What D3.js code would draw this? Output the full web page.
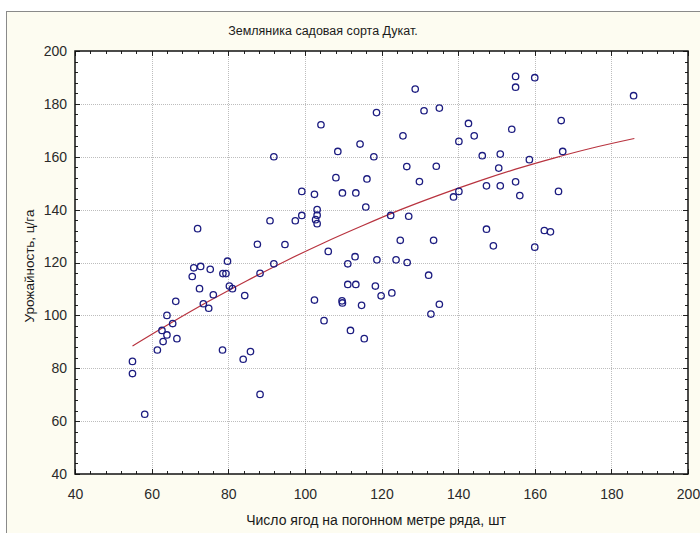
<!DOCTYPE html>
<html><head><meta charset="utf-8">
<script src="https://cdn.jsdelivr.net/npm/d3@7"></script>
<style>body{margin:0;background:#fff;}svg{display:block;}</style>
</head><body>
<script>
const title = "Земляника садовая сорта Дукат.";
const xLabel = "Число ягод на погонном метре ряда, шт";
const yLabel = "Урожайность, ц/га";
const xTicks = [40,60,80,100,120,140,160,180,200];
const yTicks = [40,60,80,100,120,140,160,180,200];

const berriesX = [55.0,55.0,58.2,61.5,62.7,63.0,64.0,64.0,65.5,66.6,66.3,70.6,71.0,72.0,72.5,72.8,73.5,74.9,75.3,76.1,
78.5,78.6,79.4,79.8,80.3,81.1,83.9,84.3,85.8,87.6,88.3,88.3,90.9,91.9,91.9,94.8,97.5,99.2,99.2,102.5,
102.5,102.8,103.2,103.2,103.2,104.2,105.0,106.1,108.1,108.6,109.7,109.8,109.8,111.2,111.2,111.9,113.1,113.3,113.3,114.4,
114.8,115.5,115.9,116.2,118.0,118.4,118.7,118.8,119.9,122.4,122.7,123.8,124.9,125.6,126.6,126.7,127.1,128.8,129.9,131.1,
132.3,132.9,133.6,134.3,135.1,135.1,138.8,140.2,140.2,142.7,144.2,146.3,147.4,147.4,149.2,150.6,151.0,151.0,154.0,155.0,
155.0,155.0,156.1,158.6,160.0,160.0,162.5,164.1,166.2,166.9,167.3,185.8];
const yieldY = [82.6,78.0,62.6,86.9,94.3,90.1,92.6,100.0,96.9,91.2,105.3,114.7,118.0,132.8,110.1,118.5,104.4,102.7,117.4,107.8,
86.9,115.8,115.8,120.5,111.1,110.1,83.4,107.5,86.3,126.9,70.1,115.9,135.8,119.5,160.0,126.8,135.8,137.8,146.9,145.8,
105.8,136.2,140.0,137.9,134.7,172.1,98.0,124.2,152.1,162.0,105.5,104.7,146.3,119.5,111.7,94.3,122.2,111.7,146.3,164.8,
103.8,91.2,141.0,151.6,160.0,111.1,176.7,121.0,107.4,137.8,108.5,121.0,128.4,167.9,156.3,120.0,137.5,185.6,150.6,177.4,
115.2,100.5,128.4,156.4,178.4,104.2,144.8,146.9,165.8,172.6,167.9,160.4,149.0,132.6,126.3,155.7,161.0,149.0,170.4,190.4,
186.3,150.5,145.3,158.9,189.9,125.8,132.1,131.6,146.9,173.7,162.0,183.1];

const fitX = [55,65,75,85,95,105,115,125,135,145,155,165,175,186];
const fitY = [88.4,97.1,105.4,113.2,120.6,127.5,133.9,140.0,145.5,150.6,155.3,159.5,163.3,166.9];

const W = 700, H = 533;
const svg = d3.select("body").append("svg").attr("width", W).attr("height", H);
const font = "'Liberation Sans', Arial, sans-serif";

svg.append("rect").attr("x",6.5).attr("y",11.5).attr("width",W).attr("height",H)
  .attr("fill","#fdfcf1").attr("stroke","#8a8a8a").attr("stroke-width",1);

const L = 75, R = 688, T = 51, B = 474;
const x = d3.scaleLinear().domain([40,200]).range([L,R]);
const y = d3.scaleLinear().domain([40,200]).range([B,T]);

svg.append("rect").attr("x",L).attr("y",T).attr("width",R-L).attr("height",B-T).attr("fill","#fff");

// grid
const grid = svg.append("g").attr("stroke","#bdbdbd").attr("stroke-dasharray","1,1").attr("stroke-width",1);
xTicks.slice(1,-1).forEach(v=>grid.append("line").attr("x1",Math.round(x(v))+0.5).attr("x2",Math.round(x(v))+0.5).attr("y1",T).attr("y2",B));
yTicks.slice(1,-1).forEach(v=>grid.append("line").attr("y1",Math.round(y(v))+0.5).attr("y2",Math.round(y(v))+0.5).attr("x1",L).attr("x2",R));

// ticks (inward, all sides)
const minor = d3.range(40,201,4);
const tk = svg.append("g").attr("stroke","#222").attr("stroke-width",1);
minor.forEach(v=>{
  const maj = v%20===0, len = maj?5:3;
  const px = Math.round(x(v))+0.5, py = Math.round(y(v))+0.5;
  tk.append("line").attr("x1",px).attr("x2",px).attr("y1",B).attr("y2",B-len);
  tk.append("line").attr("x1",px).attr("x2",px).attr("y1",T).attr("y2",T+len);
  tk.append("line").attr("y1",py).attr("y2",py).attr("x1",L).attr("x2",L+len);
  tk.append("line").attr("y1",py).attr("y2",py).attr("x1",R).attr("x2",R-len);
});

// frame
svg.append("rect").attr("x",L).attr("y",T).attr("width",R-L).attr("height",B-T)
  .attr("fill","none").attr("stroke","#111").attr("stroke-width",1.5);

// axes labels via d3 axes (styled)
const xAx = svg.append("g").attr("transform",`translate(0,${B})`)
  .call(d3.axisBottom(x).tickValues(xTicks).tickSize(0).tickPadding(15));
const yAx = svg.append("g").attr("transform",`translate(${L},0)`)
  .call(d3.axisLeft(y).tickValues(yTicks).tickSize(0).tickPadding(8));
[xAx,yAx].forEach(a=>{a.select(".domain").remove();
  a.selectAll("text").attr("font-family",font).attr("font-size",14).attr("fill","#2a2a2a");});

// fit curve
svg.append("path").datum(fitX.map((v,i)=>[v,fitY[i]]))
  .attr("d", d3.line().x(d=>x(d[0])).y(d=>y(d[1])).curve(d3.curveMonotoneX))
  .attr("fill","none").attr("stroke","#b8333f").attr("stroke-width",1.2);

// points
svg.append("g").selectAll("circle").data(berriesX.map((v,i)=>[v,yieldY[i]])).join("circle")
  .attr("cx",d=>x(d[0])).attr("cy",d=>y(d[1])).attr("r",3.2)
  .attr("fill","none").attr("stroke","#1c1c80").attr("stroke-width",1.3);

// titles
svg.append("text").attr("x",323).attr("y",35).attr("text-anchor","middle")
  .attr("font-family",font).attr("font-size",12.5).attr("fill","#1a1a1a").text(title);
svg.append("text").attr("x",376).attr("y",525).attr("text-anchor","middle")
  .attr("font-family",font).attr("font-size",14).attr("fill","#1a1a1a").text(xLabel);
svg.append("text").attr("transform","translate(34,266) rotate(-90)").attr("text-anchor","middle")
  .attr("font-family",font).attr("font-size",13.5).attr("fill","#1a1a1a").text(yLabel);
</script>
</body></html>
